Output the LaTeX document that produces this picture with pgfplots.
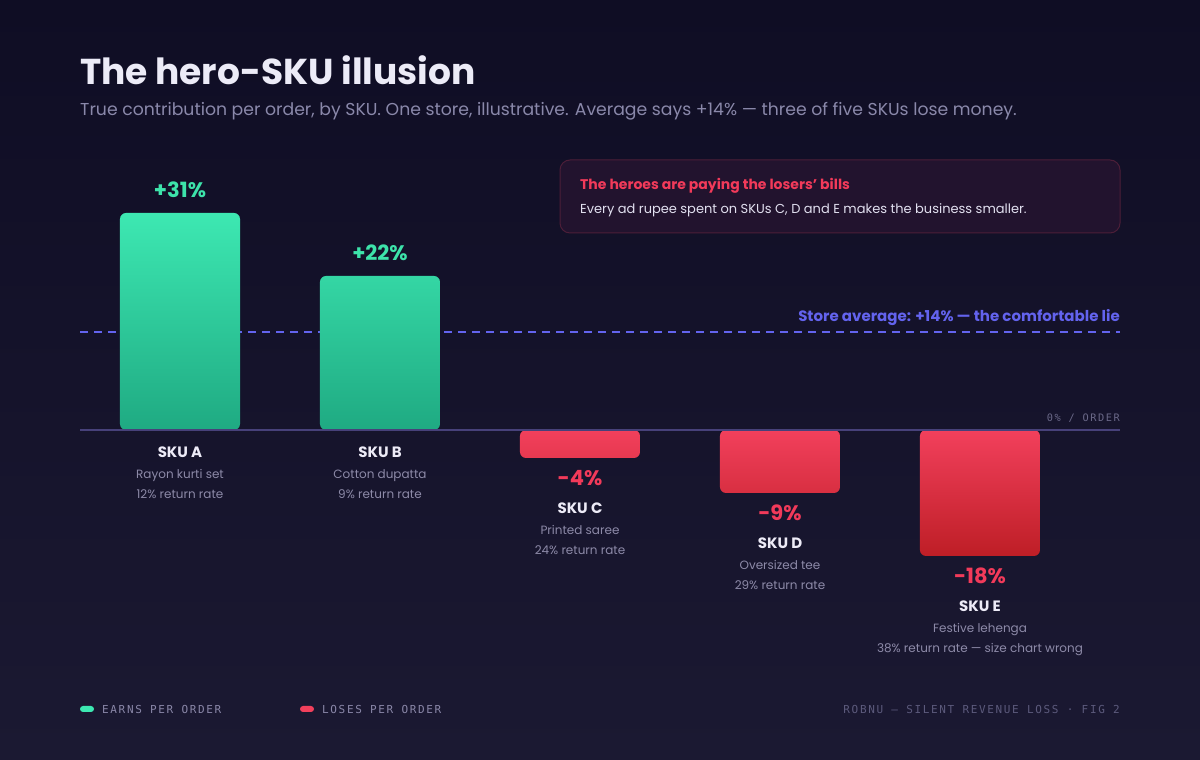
\documentclass[border=0pt]{standalone}
\usepackage{pgfplots}
\pgfplotsset{compat=1.18}
\usepackage{fontspec}
\setmainfont{Poppins}
\newfontfamily\monof[LetterSpace=15]{DejaVu Sans Mono}
\definecolor{bgtop}{HTML}{0F0D24}
\definecolor{bgbot}{HTML}{1B1932}
\definecolor{titlec}{HTML}{ECEBF7}
\definecolor{subc}{HTML}{8A88AA}
\definecolor{gtop}{HTML}{3DE8B2}
\definecolor{gbot}{HTML}{1FAA82}
\definecolor{rtop}{HTML}{F2405C}
\definecolor{rbot}{HTML}{BE1E26}
\definecolor{gtxt}{HTML}{3DE3AA}
\definecolor{rtxt}{HTML}{F23A5A}
\definecolor{skuc}{HTML}{EDEBF7}
\definecolor{skusub}{HTML}{8D8AA8}
\definecolor{basec}{HTML}{47417A}
\definecolor{avgc}{HTML}{6363EE}
\definecolor{boxfill}{HTML}{22132E}
\definecolor{boxborder}{HTML}{4C1E38}
\definecolor{boxtxt}{HTML}{E2E0F0}
\definecolor{monoc}{HTML}{8A87A8}
\definecolor{footc}{HTML}{5C5A7C}
\definecolor{zeroc}{HTML}{6A6888}
\begin{document}
\begin{tikzpicture}
\fill[top color=bgtop,bottom color=bgbot] (0pt,0pt) rectangle (1200pt,760pt);
\node[anchor=base west, text=titlec, font=\fontsize{36}{40}\selectfont\bfseries, inner sep=0pt] at (80pt,675pt) {The hero-SKU illusion};
\node[anchor=base west, text=subc, font=\fontsize{17.25}{20}\selectfont, inner sep=0pt] at (80pt,644pt) {True contribution per order, by SKU. One store, illustrative. Average says +14\% — three of five SKUs lose money.};
% annotation box
\draw[fill=boxfill, draw=boxborder, line width=1pt, rounded corners=10pt] (560pt,527pt) rectangle (1120pt,600pt);
\node[anchor=base west, text=rtxt, font=\fontsize{14}{16}\selectfont\bfseries, inner sep=0pt] at (580pt,570pt) {The heroes are paying the losers\symbol{39} bills};
\node[anchor=base west, text=boxtxt, font=\fontsize{13}{15}\selectfont, inner sep=0pt] at (580pt,546pt) {Every ad rupee spent on SKUs C, D and E makes the business smaller.};
% footer legend
\fill[gtop, rounded corners=3pt] (80pt,48pt) rectangle (94pt,54pt);
\node[anchor=base west, text=monoc, font=\monof\fontsize{11}{13}\selectfont, inner sep=0pt] at (102pt,46pt) {EARNS PER ORDER};
\fill[rtop, rounded corners=3pt] (300pt,48pt) rectangle (314pt,54pt);
\node[anchor=base west, text=monoc, font=\monof\fontsize{11}{13}\selectfont, inner sep=0pt] at (322pt,46pt) {LOSES PER ORDER};
\node[anchor=base east, text=footc, font=\monof\fontsize{11}{13}\selectfont, inner sep=0pt] at (1120pt,46pt) {ROBNU — SILENT REVENUE LOSS · FIG 2};
\begin{axis}[at={(80pt,190pt)}, anchor=south west, scale only axis,
  width=1040pt, height=364pt, xmin=-0.5, xmax=4.7, ymin=-20, ymax=32,
  axis lines=none, clip=false]
\addplot[avgc, line width=1.5pt, dash pattern=on 8pt off 6pt, forget plot] coordinates {(-0.5,14) (4.7,14)};
\addplot[ybar, bar width=120pt, bar shift=0pt, draw=none, rounded corners=6pt, top color=gtop, bottom color=gbot] coordinates {(0,31) (1,22)};
\addplot[ybar, bar width=120pt, bar shift=0pt, draw=none, rounded corners=6pt, top color=rtop, bottom color=rbot] coordinates {(2,-4) (3,-9) (4,-18)};
\draw[basec, line width=1.5pt] (axis cs:-0.5,0) -- (axis cs:4.7,0);
\node[anchor=base east, text=avgc, font=\fontsize{15}{17}\selectfont\bfseries, inner sep=0pt, yshift=10pt] at (axis cs:4.7,14) {Store average: +14\% — the comfortable lie};
\node[anchor=base east, text=zeroc, font=\monof\fontsize{10.3}{12}\selectfont, inner sep=0pt, yshift=8pt] at (axis cs:4.7,0) {0\% / ORDER};
% value labels
\node[anchor=base, text=gtxt, font=\fontsize{21}{23}\selectfont\bfseries, inner sep=0pt, yshift=15pt] at (axis cs:0,31) {+31\%};
\node[anchor=base, text=gtxt, font=\fontsize{21}{23}\selectfont\bfseries, inner sep=0pt, yshift=15pt] at (axis cs:1,22) {+22\%};
\node[anchor=base, text=rtxt, font=\fontsize{21}{23}\selectfont\bfseries, inner sep=0pt, yshift=-28pt] at (axis cs:2,-4) {-4\%};
\node[anchor=base, text=rtxt, font=\fontsize{21}{23}\selectfont\bfseries, inner sep=0pt, yshift=-28pt] at (axis cs:3,-9) {-9\%};
\node[anchor=base, text=rtxt, font=\fontsize{21}{23}\selectfont\bfseries, inner sep=0pt, yshift=-28pt] at (axis cs:4,-18) {-18\%};
% SKU labels
\node[anchor=base, text=skuc, font=\fontsize{15}{17}\selectfont\bfseries, inner sep=0pt, yshift=-27.5pt] at (axis cs:0,0) {SKU A};
\node[anchor=base, text=skusub, font=\fontsize{12}{14}\selectfont, inner sep=0pt, yshift=-49pt] at (axis cs:0,0) {Rayon kurti set};
\node[anchor=base, text=skusub, font=\fontsize{12}{14}\selectfont, inner sep=0pt, yshift=-69pt] at (axis cs:0,0) {12\% return rate};
\node[anchor=base, text=skuc, font=\fontsize{15}{17}\selectfont\bfseries, inner sep=0pt, yshift=-27.5pt] at (axis cs:1,0) {SKU B};
\node[anchor=base, text=skusub, font=\fontsize{12}{14}\selectfont, inner sep=0pt, yshift=-49pt] at (axis cs:1,0) {Cotton dupatta};
\node[anchor=base, text=skusub, font=\fontsize{12}{14}\selectfont, inner sep=0pt, yshift=-69pt] at (axis cs:1,0) {9\% return rate};
\node[anchor=base, text=skuc, font=\fontsize{15}{17}\selectfont\bfseries, inner sep=0pt, yshift=-55.5pt] at (axis cs:2,-4) {SKU C};
\node[anchor=base, text=skusub, font=\fontsize{12}{14}\selectfont, inner sep=0pt, yshift=-77pt] at (axis cs:2,-4) {Printed saree};
\node[anchor=base, text=skusub, font=\fontsize{12}{14}\selectfont, inner sep=0pt, yshift=-97pt] at (axis cs:2,-4) {24\% return rate};
\node[anchor=base, text=skuc, font=\fontsize{15}{17}\selectfont\bfseries, inner sep=0pt, yshift=-55.5pt] at (axis cs:3,-9) {SKU D};
\node[anchor=base, text=skusub, font=\fontsize{12}{14}\selectfont, inner sep=0pt, yshift=-77pt] at (axis cs:3,-9) {Oversized tee};
\node[anchor=base, text=skusub, font=\fontsize{12}{14}\selectfont, inner sep=0pt, yshift=-97pt] at (axis cs:3,-9) {29\% return rate};
\node[anchor=base, text=skuc, font=\fontsize{15}{17}\selectfont\bfseries, inner sep=0pt, yshift=-55.5pt] at (axis cs:4,-18) {SKU E};
\node[anchor=base, text=skusub, font=\fontsize{12}{14}\selectfont, inner sep=0pt, yshift=-77pt] at (axis cs:4,-18) {Festive lehenga};
\node[anchor=base, text=skusub, font=\fontsize{12}{14}\selectfont, inner sep=0pt, yshift=-97pt] at (axis cs:4,-18) {38\% return rate — size chart wrong};
\end{axis}
\end{tikzpicture}
\end{document}
